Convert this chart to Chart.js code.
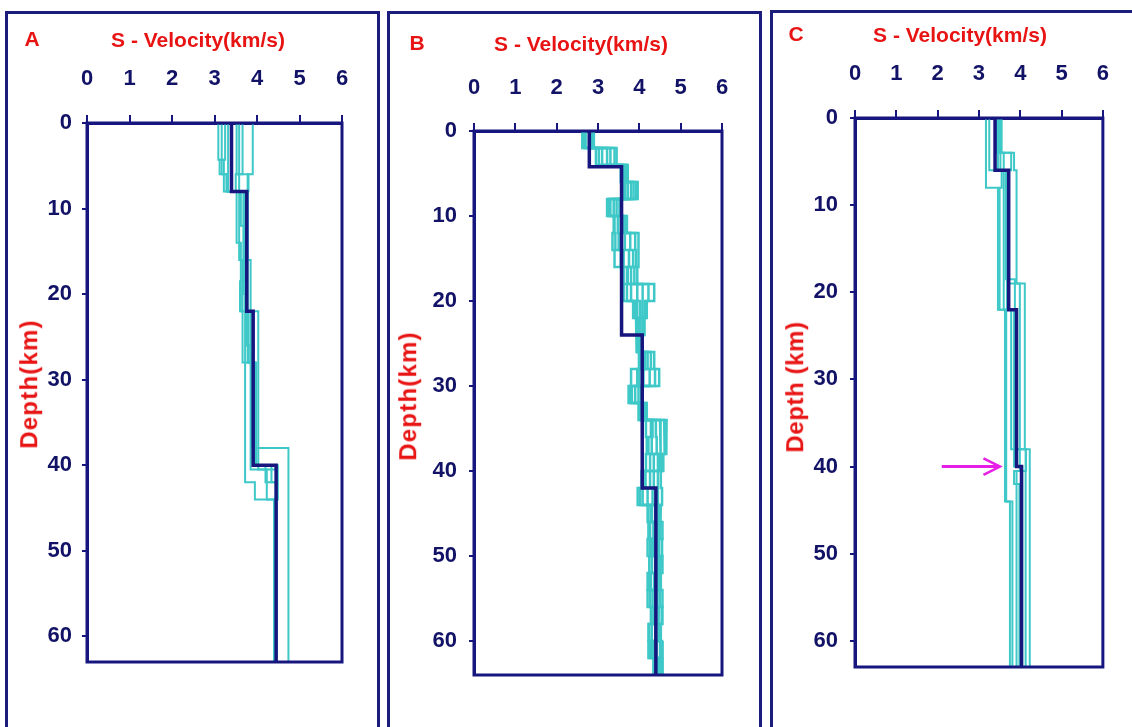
<!DOCTYPE html>
<html>
<head>
<meta charset="utf-8">
<script src="https://cdn.jsdelivr.net/npm/chart.js@4.4.1/dist/chart.umd.min.js"></script>
<style>
  html, body { margin: 0; padding: 0; background: #fff; width: 1132px; height: 727px; overflow: hidden;
    font-family: "Liberation Sans", Arial, sans-serif; }
  .panel { position: absolute; border: 3px solid #1c1c7c; border-bottom: none; box-sizing: border-box; }
  canvas { position: absolute; left: 0; top: 0; }
  .txt { position: absolute; color: #e81414; font-weight: bold; white-space: nowrap; line-height: 1.15;
    transform: translate(-50%, -50%); }
  .vert { transform: translate(-50%, -50%) rotate(-90deg); }
</style>
</head>
<body>
<div class="panel" style="left:5px; top:11px; width:375px; height:740px;"></div>
<div class="panel" style="left:387px; top:11px; width:375px; height:740px;"></div>
<div class="panel" style="left:770px; top:10px; width:400px; height:740px;"></div>

<canvas id="chartA" width="1132" height="727"></canvas>
<canvas id="chartB" width="1132" height="727"></canvas>
<canvas id="chartC" width="1132" height="727"></canvas>

<div class="txt" style="left:32px; top:39px; font-size:21px;">A</div>
<div class="txt" style="left:198px; top:40px; font-size:21px;">S - Velocity(km/s)</div>
<div class="txt vert" style="left:29px; top:384px; font-size:24px; letter-spacing:1.2px;">Depth(km)</div>

<div class="txt" style="left:417px; top:43px; font-size:21px;">B</div>
<div class="txt" style="left:581px; top:44px; font-size:21px;">S - Velocity(km/s)</div>
<div class="txt vert" style="left:408px; top:396px; font-size:24px; letter-spacing:1.2px;">Depth(km)</div>

<div class="txt" style="left:796px; top:34px; font-size:21px;">C</div>
<div class="txt" style="left:960px; top:35px; font-size:21px;">S - Velocity(km/s)</div>
<div class="txt vert" style="left:795px; top:387px; font-size:24px; letter-spacing:0.6px;">Depth (km)</div>

<script>
// Axis ticks shared by the three profiles
const velTicks = [0, 1, 2, 3, 4, 5, 6];
const depthTicks = [0, 10, 20, 30, 40, 50, 60];

// ---- Profile A: layer boundaries (km) and S-velocities (km/s) ----
const A_modelBounds = [0, 8, 22, 40, 63];
const A_modelVs = [3.40, 3.76, 3.91, 4.45];
const A_trialBounds = [
  [0, 6, 22, 38, 63],
  [0, 4.3, 8, 16, 28, 42, 44, 63],
  [0, 6, 8, 14, 22, 26, 40.5, 44, 63],
  [0, 4.3, 6, 8, 18.5, 22, 28, 40, 42, 63],
  [0, 8, 12, 22, 28, 40, 44, 63],
  [0, 6, 8, 20, 22, 38, 40.5, 63],
  [0, 8, 16, 26, 28, 40, 63],
  [0, 6, 8, 22, 28, 40, 42, 63]
];
const A_trialVs = [
  [3.90, 3.78, 4.03, 4.74],
  [3.09, 3.22, 3.58, 3.66, 3.72, 3.95, 4.40],
  [3.17, 3.28, 3.52, 3.62, 3.75, 3.85, 4.23, 4.40],
  [3.25, 3.12, 3.30, 3.70, 3.60, 3.80, 3.92, 4.34, 4.44],
  [3.32, 3.62, 3.75, 3.72, 3.95, 4.49, 4.42],
  [3.52, 3.80, 3.68, 3.73, 3.88, 4.03, 4.45],
  [3.58, 3.78, 3.85, 3.80, 3.98, 4.45],
  [3.66, 3.50, 3.72, 3.78, 3.90, 4.20, 4.46]
];

// ---- Profile B ----
const B_modelBounds = [0, 4.2, 24, 42, 64];
const B_modelVs = [2.79, 3.57, 4.07, 4.40];
const B_trialBounds = [0, 2, 4, 6, 8, 10, 12, 14, 16, 18, 20, 22, 24, 26, 28, 30, 32, 34, 36, 38, 40, 42, 44,
                       46, 48, 50, 52, 54, 56, 58, 60, 62, 64];
const B_trialVs = [
  [2.62, 2.95, 3.55, 3.62, 3.22, 3.40, 3.35, 3.40, 3.60, 3.62, 3.85, 3.92, 3.94, 3.99, 3.80, 3.74, 4.00, 4.16, 4.18, 4.16, 4.05, 3.96, 4.20, 4.22, 4.30, 4.24, 4.20, 4.32, 4.28, 4.22, 4.30, 4.34],
  [2.70, 3.10, 3.60, 3.72, 3.30, 3.48, 3.50, 3.62, 3.70, 3.80, 3.95, 3.98, 3.98, 4.10, 3.95, 3.82, 4.05, 4.28, 4.30, 4.26, 4.15, 4.08, 4.30, 4.26, 4.35, 4.30, 4.28, 4.38, 4.34, 4.30, 4.36, 4.40],
  [2.78, 3.22, 3.64, 3.80, 3.38, 3.55, 3.65, 3.75, 3.80, 3.95, 4.02, 4.04, 4.02, 4.20, 4.10, 3.90, 4.10, 4.40, 4.42, 4.35, 4.26, 4.20, 4.38, 4.34, 4.42, 4.38, 4.36, 4.44, 4.40, 4.38, 4.42, 4.45],
  [2.85, 3.30, 3.68, 3.86, 3.45, 3.60, 3.78, 3.85, 3.88, 4.08, 4.08, 4.08, 4.06, 4.28, 4.25, 3.98, 4.14, 4.50, 4.52, 4.45, 4.35, 4.32, 4.46, 4.42, 4.48, 4.45, 4.44, 4.50, 4.47, 4.46, 4.50, 4.50],
  [2.90, 3.40, 3.72, 3.92, 3.52, 3.66, 3.90, 3.92, 3.95, 4.22, 4.14, 4.12, 4.08, 4.36, 4.38, 4.04, 4.18, 4.60, 4.62, 4.55, 4.45, 4.45, 4.52, 4.50, 4.55, 4.52, 4.50, 4.56, 4.54, 4.52, 4.55, 4.57],
  [2.66, 3.02, 3.58, 3.96, 3.56, 3.70, 3.98, 3.98, 3.72, 4.36, 4.18, 3.94, 3.95, 4.02, 4.48, 4.08, 3.98, 4.66, 4.65, 4.58, 4.52, 4.55, 4.22, 4.56, 4.20, 4.56, 4.24, 4.20, 4.56, 4.24, 4.22, 4.55],
  [2.82, 3.45, 3.70, 3.66, 3.26, 3.38, 3.42, 3.55, 3.62, 3.70, 3.90, 4.12, 4.00, 4.14, 4.00, 3.78, 4.06, 4.32, 4.22, 4.50, 4.10, 4.02, 4.28, 4.46, 4.26, 4.40, 4.52, 4.26, 4.36, 4.48, 4.26, 4.46]
];

// ---- Profile C ----
const C_modelBounds = [0, 6, 22, 40, 63];
const C_modelVs = [3.39, 3.72, 3.91, 4.03];
const C_trialBounds = [
  [0, 8, 22, 44, 63],
  [0, 6, 8, 22, 44, 63],
  [0, 4, 6, 18.5, 38, 40.5, 63],
  [0, 4, 6, 19, 38, 40.5, 42, 63],
  [0, 4, 6, 19, 38, 63],
  [0, 6, 22, 38, 63],
  [0, 6, 22, 40, 63]
];
const C_trialVs = [
  [3.17, 3.46, 3.63, 3.75],
  [3.25, 3.55, 3.50, 3.66, 3.81],
  [3.44, 3.60, 3.65, 3.87, 3.99, 3.91],
  [3.49, 3.78, 3.70, 3.99, 4.14, 3.85, 3.98],
  [3.55, 3.85, 3.91, 4.11, 4.23],
  [3.46, 3.60, 3.78, 4.13],
  [3.52, 3.68, 3.85, 4.05]
];
// Arrow marking the 40 km interface in C
const C_arrowVel = [2.10, 3.51];
const C_arrowDepth = 40;

const NAVY = '#16167e';
const CYAN = '#3fc8c8';
const MAGENTA = '#e61ee6';

// Turn layer boundaries + velocities into a stepped (velocity, depth) path
function stepPoints(bounds, vs) {
  const pts = [];
  vs.forEach((v, i) => {
    pts.push({ x: v, y: bounds[i] });
    pts.push({ x: v, y: bounds[i + 1] });
  });
  return pts;
}

const framePlugin = {
  id: 'frame',
  afterDraw(chart) {
    const a = chart.chartArea;
    const ctx = chart.ctx;
    ctx.save();
    ctx.strokeStyle = NAVY;
    ctx.lineWidth = 3;
    ctx.strokeRect(a.left, a.top, a.right - a.left, a.bottom - a.top);
    ctx.restore();
  }
};

function makePanel(id, box, model, trials, extra) {
  const datasets = trials.map(t => ({
    data: stepPoints(t.b, t.v), borderColor: CYAN, borderWidth: box.trialWidth, showLine: true, order: 2
  }));
  datasets.push({
    data: stepPoints(model.b, model.v), borderColor: NAVY, borderWidth: 3.5, showLine: true, order: 0
  });
  (extra || []).forEach(d => datasets.push(d));

  const xH = 80, yW = 60;
  new Chart(document.getElementById(id), {
    type: 'scatter',
    data: { datasets },
    options: {
      responsive: false,
      animation: false,
      devicePixelRatio: 1,
      elements: {
        point: { radius: 0, hoverRadius: 0 },
        line: { tension: 0, borderJoinStyle: 'miter', fill: false }
      },
      plugins: { legend: { display: false }, tooltip: { enabled: false } },
      events: [],
      layout: {
        padding: { left: box.left - yW, top: box.top - xH, right: 1132 - box.right, bottom: 727 - box.bottom }
      },
      scales: {
        x: {
          type: 'linear', position: 'top', min: 0, max: 6,
          afterBuildTicks: s => { s.ticks = velTicks.map(v => ({ value: v })); },
          afterFit: s => { s.height = xH; },
          ticks: { color: '#121266', padding: box.xPad, font: { family: 'Liberation Sans', size: 22, weight: 'bold' } },
          grid: { drawOnChartArea: false, drawTicks: true, tickLength: 8, color: NAVY, lineWidth: 2 },
          border: { display: true, color: NAVY, width: 3 }
        },
        y: {
          type: 'linear', reverse: true, min: 0, max: box.maxDepth,
          afterBuildTicks: s => { s.ticks = depthTicks.map(v => ({ value: v })); },
          afterFit: s => { s.width = yW; },
          ticks: { color: '#121266', padding: box.yPad, font: { family: 'Liberation Sans', size: 22, weight: 'bold' } },
          grid: { drawOnChartArea: false, drawTicks: true, tickLength: 5, color: NAVY, lineWidth: 2 },
          border: { display: true, color: NAVY, width: 3 }
        }
      }
    },
    plugins: [framePlugin]
  });
}

function trialList(bounds, vs) {
  return vs.map((v, i) => ({ b: Array.isArray(bounds[0]) ? bounds[i] : bounds, v }));
}

makePanel('chartA', { left: 87, right: 342, top: 123, bottom: 662, maxDepth: 63, xPad: 23, yPad: 10, trialWidth: 2 },
  { b: A_modelBounds, v: A_modelVs }, trialList(A_trialBounds, A_trialVs));

makePanel('chartB', { left: 474, right: 722, top: 131, bottom: 675, maxDepth: 64, xPad: 22, yPad: 12, trialWidth: 2.5 },
  { b: B_modelBounds, v: B_modelVs }, trialList(B_trialBounds, B_trialVs));

const headDv = 0.40, headDd = 0.95;
makePanel('chartC', { left: 855, right: 1103, top: 118, bottom: 667, maxDepth: 63, xPad: 23, yPad: 12, trialWidth: 2 },
  { b: C_modelBounds, v: C_modelVs }, trialList(C_trialBounds, C_trialVs), [
    { data: [{ x: C_arrowVel[0], y: C_arrowDepth }, { x: C_arrowVel[1], y: C_arrowDepth }],
      borderColor: MAGENTA, borderWidth: 3, showLine: true, order: 0 },
    { data: [{ x: C_arrowVel[1] - headDv, y: C_arrowDepth - headDd }, { x: C_arrowVel[1], y: C_arrowDepth },
             { x: C_arrowVel[1] - headDv, y: C_arrowDepth + headDd }],
      borderColor: MAGENTA, borderWidth: 2.5, showLine: true, order: 0 }
  ]);
</script>
</body>
</html>
